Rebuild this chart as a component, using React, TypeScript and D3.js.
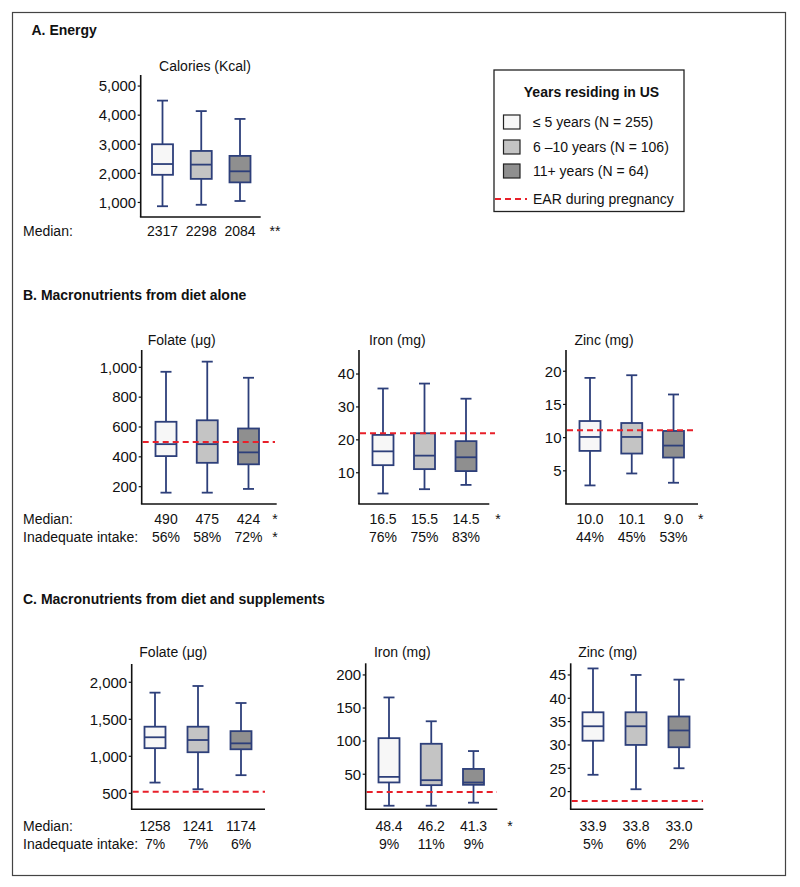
import React from "react";
import * as d3 from "d3";

// ---------- DATA ----------
const groups = ["≤ 5 years (N = 255)", "6 –10 years (N = 106)", "11+ years (N = 64)"];
const groupKeys = ["g1", "g2", "g3"];

// [low whisker, Q1, median, Q3, high whisker]
const energyStats = [[870, 1950, 2320, 3000, 4500], [920, 1810, 2300, 2770, 4140], [1050, 1690, 2070, 2600, 3870]];
const folateDietStats = [[160, 405, 485, 635, 970], [160, 360, 485, 645, 1038], [185, 350, 430, 590, 930]];
const ironDietStats = [[3.7, 12.3, 16.5, 21.5, 35.6], [5.0, 11.1, 15.2, 22.0, 37.1], [6.3, 10.5, 14.7, 19.6, 32.5]];
const zincDietStats = [[2.8, 8.0, 10.1, 12.5, 19.0], [4.6, 7.6, 10.1, 12.2, 19.4], [3.2, 7.0, 8.8, 11.0, 16.5]];
const folateSuppStats = [[645, 1110, 1257, 1400, 1860], [555, 1055, 1220, 1400, 1950], [745, 1095, 1175, 1340, 1720]];
const ironSuppStats = [[2.4, 37.6, 46, 104.5, 166], [2.4, 33.5, 41, 96, 130], [7, 34, 37.5, 58, 85]];
const zincSuppStats = [[23.6, 30.9, 34, 37, 46.4], [20.5, 30, 34, 37, 45], [25, 29.5, 33.1, 36.1, 44]];

const energyTicks = [1000, 2000, 3000, 4000, 5000];
const folateDietTicks = [200, 400, 600, 800, 1000];
const ironDietTicks = [10, 20, 30, 40];
const zincDietTicks = [5, 10, 15, 20];
const folateSuppTicks = [500, 1000, 1500, 2000];
const ironSuppTicks = [50, 100, 150, 200];
const zincSuppTicks = [20, 25, 30, 35, 40, 45];

const energyMedians = ["2317", "2298", "2084"];
const folateDietMedians = ["490", "475", "424"];
const ironDietMedians = ["16.5", "15.5", "14.5"];
const zincDietMedians = ["10.0", "10.1", "9.0"];
const folateSuppMedians = ["1258", "1241", "1174"];
const ironSuppMedians = ["48.4", "46.2", "41.3"];
const zincSuppMedians = ["33.9", "33.8", "33.0"];

const folateDietInadequate = ["56%", "58%", "72%"];
const ironDietInadequate = ["76%", "75%", "83%"];
const zincDietInadequate = ["44%", "45%", "53%"];
const folateSuppInadequate = ["7%", "7%", "6%"];
const ironSuppInadequate = ["9%", "11%", "9%"];
const zincSuppInadequate = ["5%", "6%", "2%"];

const earValues = { folateDiet: 500, ironDiet: 22, zincDiet: 11.1, folateSupp: 520, ironSupp: 23, zincSupp: 18 };

// ---------- STYLE ----------
const FONT = "'Liberation Sans', Arial, Helvetica, sans-serif";
const fills = ["#f7f7f7", "#c4c4c4", "#8f8f8f"];
const NAVY = "#2d3f7a";
const RED = "#e8202a";

const fmtTick = d3.format(",");

type Panel = {
  title: string;
  titleX: number;
  titleY: number;
  stats: number[][];
  ticks: number[];
  domain: [number, number];
  x0: number;
  x1: number;
  yTop: number;
  yBot: number;
  centers: [number, number];
  medians: string[];
  inadequate?: string[];
  rowY: number;
  medianStar?: string;
  inadStar?: string;
  starX?: number;
  ear?: number;
  earEnd?: number;
};

const panels: Panel[] = [
  {
    title: "Calories (Kcal)", titleX: 205, titleY: 71, stats: energyStats, ticks: energyTicks,
    domain: [500, 5380], x0: 140.7, x1: 260.7, yTop: 75, yBot: 217, centers: [162.5, 240],
    medians: energyMedians, rowY: 236, medianStar: "**", starX: 275,
  },
  {
    title: "Folate (\u03bcg)", titleX: 181.7, titleY: 345, stats: folateDietStats, ticks: folateDietTicks,
    domain: [84, 1116], x0: 141.7, x1: 276.7, yTop: 350, yBot: 504, centers: [166, 248.5],
    medians: folateDietMedians, inadequate: folateDietInadequate, rowY: 523.5, medianStar: "*", inadStar: "*", starX: 275,
    ear: earValues.folateDiet, earEnd: 275,
  },
  {
    title: "Iron (mg)", titleX: 397.3, titleY: 345, stats: ironDietStats, ticks: ironDietTicks,
    domain: [0.5, 47.3], x0: 359, x1: 489.3, yTop: 350, yBot: 504, centers: [383, 466],
    medians: ironDietMedians, inadequate: ironDietInadequate, rowY: 523.5, medianStar: "*", starX: 498,
    ear: earValues.ironDiet, earEnd: 495,
  },
  {
    title: "Zinc (mg)", titleX: 604, titleY: 345, stats: zincDietStats, ticks: zincDietTicks,
    domain: [0, 23.2], x0: 566, x1: 698, yTop: 350, yBot: 504, centers: [590, 673.5],
    medians: zincDietMedians, inadequate: zincDietInadequate, rowY: 523.5, medianStar: "*", starX: 700.7,
    ear: earValues.zincDiet, earEnd: 696.7,
  },
  {
    title: "Folate (\u03bcg)", titleX: 173.3, titleY: 657, stats: folateSuppStats, ticks: folateSuppTicks,
    domain: [284, 2247], x0: 131.7, x1: 265, yTop: 664, yBot: 809.3, centers: [155, 241],
    medians: folateSuppMedians, inadequate: folateSuppInadequate, rowY: 831,
    ear: earValues.folateSupp, earEnd: 265,
  },
  {
    title: "Iron (mg)", titleX: 402.3, titleY: 657, stats: ironSuppStats, ticks: ironSuppTicks,
    domain: [-3, 217.6], x0: 365.7, x1: 497.3, yTop: 663.3, yBot: 809.3, centers: [389, 473.5],
    medians: ironSuppMedians, inadequate: ironSuppInadequate, rowY: 831, medianStar: "*", starX: 510,
    ear: earValues.ironSupp, earEnd: 497,
  },
  {
    title: "Zinc (mg)", titleX: 607.7, titleY: 657, stats: zincSuppStats, ticks: zincSuppTicks,
    domain: [16.2, 47.5], x0: 570.7, x1: 703.3, yTop: 663.3, yBot: 809.3, centers: [593, 679],
    medians: zincSuppMedians, inadequate: zincSuppInadequate, rowY: 831,
    ear: earValues.zincSupp, earEnd: 703,
  },
];

const ROW_GAP = 18.4;
const BOX_W = 21;
const CAP_W = 11;

function BoxPanel({ p }: { p: Panel }) {
  const y = d3.scaleLinear().domain(p.domain).range([p.yBot, p.yTop]);
  const x = d3.scalePoint<string>().domain(groupKeys).range(p.centers).padding(0);
  return (
    <g>
      <text x={p.titleX} y={p.titleY} textAnchor="middle" fontSize={14} fill="#111">{p.title}</text>
      {p.stats.map((s, i) => {
        const cx = x(groupKeys[i]) as number;
        const [lo, q1, med, q3, hi] = s;
        return (
          <g key={i} stroke={NAVY} strokeWidth={1.8} fill="none">
            <line x1={cx} x2={cx} y1={y(hi)} y2={y(q3)} />
            <line x1={cx} x2={cx} y1={y(q1)} y2={y(lo)} />
            <line x1={cx - CAP_W / 2} x2={cx + CAP_W / 2} y1={y(hi)} y2={y(hi)} />
            <line x1={cx - CAP_W / 2} x2={cx + CAP_W / 2} y1={y(lo)} y2={y(lo)} />
            <rect x={cx - BOX_W / 2} y={y(q3)} width={BOX_W} height={y(q1) - y(q3)} fill={fills[i]} />
            <line x1={cx - BOX_W / 2} x2={cx + BOX_W / 2} y1={y(med)} y2={y(med)} />
          </g>
        );
      })}
      {p.ear !== undefined && (
        <line x1={p.x0 + 1} x2={p.earEnd} y1={y(p.ear)} y2={y(p.ear)} stroke={RED} strokeWidth={2} strokeDasharray="6,4" />
      )}
      {/* axes */}
      <line x1={p.x0} x2={p.x0} y1={p.yTop} y2={p.yBot} stroke="#111" strokeWidth={1.6} />
      <line x1={p.x0 - 0.8} x2={p.x1} y1={p.yBot} y2={p.yBot} stroke="#111" strokeWidth={1.6} />
      {p.ticks.map((t) => (
        <g key={t}>
          <line x1={p.x0 - 3} x2={p.x0} y1={y(t)} y2={y(t)} stroke="#111" strokeWidth={1.2} />
          <text x={p.x0 - 4.5} y={y(t) + 5.3} textAnchor="end" fontSize={15} fill="#111">{fmtTick(t)}</text>
        </g>
      ))}
      {p.medians.map((m, i) => (
        <text key={"m" + i} x={x(groupKeys[i])} y={p.rowY} textAnchor="middle" fontSize={14} fill="#111">{m}</text>
      ))}
      {p.inadequate && p.inadequate.map((m, i) => (
        <text key={"n" + i} x={x(groupKeys[i])} y={p.rowY + ROW_GAP} textAnchor="middle" fontSize={14} fill="#111">{m}</text>
      ))}
      {p.medianStar && (
        <text x={p.starX} y={p.rowY} textAnchor="middle" fontSize={14} fill="#111">{p.medianStar}</text>
      )}
      {p.inadStar && (
        <text x={p.starX} y={p.rowY + ROW_GAP} textAnchor="middle" fontSize={14} fill="#111">{p.inadStar}</text>
      )}
    </g>
  );
}

const legendRows = [122, 147, 171];

export default function App() {
  return (
    <svg width={800} height={887} style={{ position: "absolute", left: 0, top: 0, background: "#fff" }} fontFamily={FONT}>
      <rect x={0} y={0} width={800} height={887} fill="#fff" />
      <rect x={12.5} y={12.5} width={773} height={863} fill="none" stroke="#444" strokeWidth={1.2} />

      <text x={31.5} y={35} fontSize={14} fontWeight="bold" fill="#111">A. Energy</text>
      <text x={23} y={300} fontSize={14} fontWeight="bold" fill="#111">B. Macronutrients from diet alone</text>
      <text x={23} y={604} fontSize={14} fontWeight="bold" fill="#111">C. Macronutrients from diet and supplements</text>

      <text x={23} y={236} fontSize={14} fill="#111">Median:</text>
      <text x={23} y={523.5} fontSize={14} fill="#111">Median:</text>
      <text x={23} y={523.5 + ROW_GAP} fontSize={14} fill="#111">Inadequate intake:</text>
      <text x={23} y={831} fontSize={14} fill="#111">Median:</text>
      <text x={23} y={831 + ROW_GAP} fontSize={14} fill="#111">Inadequate intake:</text>

      {panels.map((p, i) => <BoxPanel key={i} p={p} />)}

      {/* legend */}
      <rect x={494} y={70} width={190} height={141.5} fill="#fff" stroke="#222" strokeWidth={1.3} />
      <text x={591.5} y={96.5} textAnchor="middle" fontSize={14} fontWeight="bold" fill="#111">Years residing in US</text>
      {groups.map((g, i) => (
        <g key={g}>
          <rect x={503.5} y={legendRows[i] - 7} width={16.5} height={14} fill={fills[i]} stroke="#222" strokeWidth={1.2} />
          <text x={533} y={legendRows[i] + 5} fontSize={14} fill="#111">{g}</text>
        </g>
      ))}
      <line x1={495} x2={527} y1={199} y2={199} stroke={RED} strokeWidth={2} strokeDasharray="6,4" />
      <text x={533} y={204} fontSize={14} fill="#111">EAR during pregnancy</text>
    </svg>
  );
}
